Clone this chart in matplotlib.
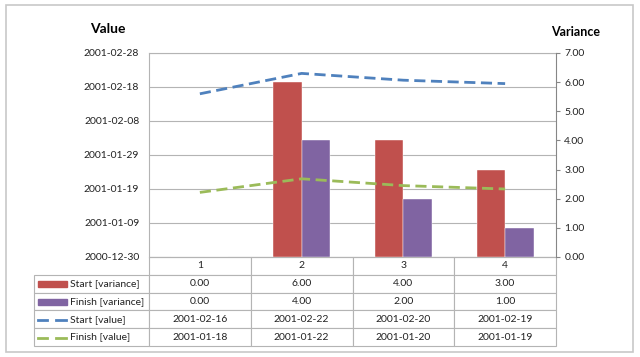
import matplotlib
matplotlib.use('Agg')
import matplotlib.pyplot as plt
import matplotlib.dates as mdates
from matplotlib.patches import Rectangle
from matplotlib.lines import Line2D
import pandas as pd

plt.rcParams['font.family'] = ['Lato', 'DejaVu Sans']

categories = ['1', '2', '3', '4']
start_variance = [0, 6, 4, 3]
finish_variance = [0, 4, 2, 1]
start_value = ['2001-02-16', '2001-02-22', '2001-02-20', '2001-02-19']
finish_value = ['2001-01-18', '2001-01-22', '2001-01-20', '2001-01-19']
date_ticks = ['2000-12-30', '2001-01-09', '2001-01-19', '2001-01-29',
              '2001-02-08', '2001-02-18', '2001-02-28']
variance_ticks = [0, 1, 2, 3, 4, 5, 6, 7]

red = '#C0504D'
purple = '#8064A2'
blue = '#4F81BD'
green = '#9BBB59'
grid_gray = '#B4B4B4'
W, H = 640, 357

fig = plt.figure(figsize=(6.4, 3.57), dpi=100)
rect = [149 / W, 1 - 257 / H, (556 - 149) / W, (257 - 53) / H]

# outer frame
fig.add_artist(Rectangle((6 / W, 1 - 352 / H), 627 / W, 347 / H, transform=fig.transFigure,
                         fill=False, ec='#C8C8C8', lw=1.2))

x = list(range(len(categories)))
tick_dates = pd.to_datetime(date_ticks)
ylo, yhi = mdates.date2num(tick_dates[0]), mdates.date2num(tick_dates[-1])

# bottom axes: date scale + grid
ax = fig.add_axes(rect)
ax.set_xlim(-0.5, 3.5)
ax.set_ylim(ylo, yhi)
ax.set_yticks(mdates.date2num(tick_dates))
ax.yaxis.set_major_formatter(mdates.DateFormatter('%Y-%m-%d'))
ax.grid(axis='y', color=grid_gray, lw=0.8)
ax.tick_params(axis='y', length=0, pad=7, labelsize=7.5, labelcolor='#222222')
ax.set_xticks([])
for s in ['top', 'left', 'bottom']:
    ax.spines[s].set_color(grid_gray)
ax.spines['right'].set_visible(False)

# variance axis with bars
ax2 = ax.twinx()
ax2.set_ylim(0, 7)
ax2.set_yticks(variance_ticks)
ax2.yaxis.set_major_formatter(plt.FormatStrFormatter('%.2f'))
ax2.tick_params(axis='y', length=3, pad=3, labelsize=7.5, color='#868686', labelcolor='#222222')
ax2.spines['right'].set_color('#868686')
for s in ['top', 'left', 'bottom']:
    ax2.spines[s].set_visible(False)
bw = 0.28
ax2.bar([i - bw / 2 for i in x], start_variance, bw, color=red, ec='white', lw=0.3)
ax2.bar([i + bw / 2 for i in x], finish_variance, bw, color=purple, ec='white', lw=0.3)

# lines on top, sharing date scale
ax3 = fig.add_axes(rect, sharex=ax, sharey=ax)
ax3.patch.set_visible(False)
ax3.axis('off')
ax3.plot(x, mdates.date2num(pd.to_datetime(start_value)), color=blue, lw=2, dashes=(4, 2))
ax3.plot(x, mdates.date2num(pd.to_datetime(finish_value)), color=green, lw=2, dashes=(4, 2))
ax3.set_ylim(ylo, yhi)

fig.text(108 / W, 1 - 29 / H, 'Value', ha='center', va='center', fontsize=10, fontweight='bold')
fig.text(576 / W, 1 - 32 / H, 'Variance', ha='center', va='center', fontsize=9, fontweight='bold')

# data table
row_labels = ['Start [variance]', 'Finish [variance]', 'Start [value]', 'Finish [value]']
cell_text = [['%.2f' % v for v in start_variance],
             ['%.2f' % v for v in finish_variance],
             start_value,
             finish_value]
aw, ah = 556 - 149, 257 - 53
tbl = ax.table(cellText=cell_text, rowLabels=row_labels, colLabels=categories,
               colWidths=[0.25] * 4, cellLoc='center', rowLoc='left',
               bbox=[0, -(346 - 257) / ah, 1, (346 - 257) / ah])
tbl._autoColumns = []
tbl.auto_set_font_size(False)
tbl.set_fontsize(7.5)
for (r, c), cell in tbl.get_celld().items():
    cell.set_edgecolor('#B4B4B4')
    cell.set_linewidth(0.8)
    cell.get_text().set_color('#222222')
    if c == -1:
        cell.set_width(115 / aw)
        cell.PAD = 36 / 115

# legend glyphs inside the row label cells
row_y = [284, 302, 320, 338]
fig.add_artist(Rectangle((38 / W, 1 - (row_y[0] + 3) / H), 29 / W, 6 / H,
                         transform=fig.transFigure, color=red))
fig.add_artist(Rectangle((38 / W, 1 - (row_y[1] + 3) / H), 29 / W, 6 / H,
                         transform=fig.transFigure, color=purple))
for yy, col in [(row_y[2], blue), (row_y[3], green)]:
    for x0, x1 in [(38, 47), (56, 66)]:
        fig.add_artist(Line2D([x0 / W, x1 / W], [1 - yy / H, 1 - yy / H],
                              transform=fig.transFigure, color=col, lw=2))

fig.savefig('out.png', dpi=100)
